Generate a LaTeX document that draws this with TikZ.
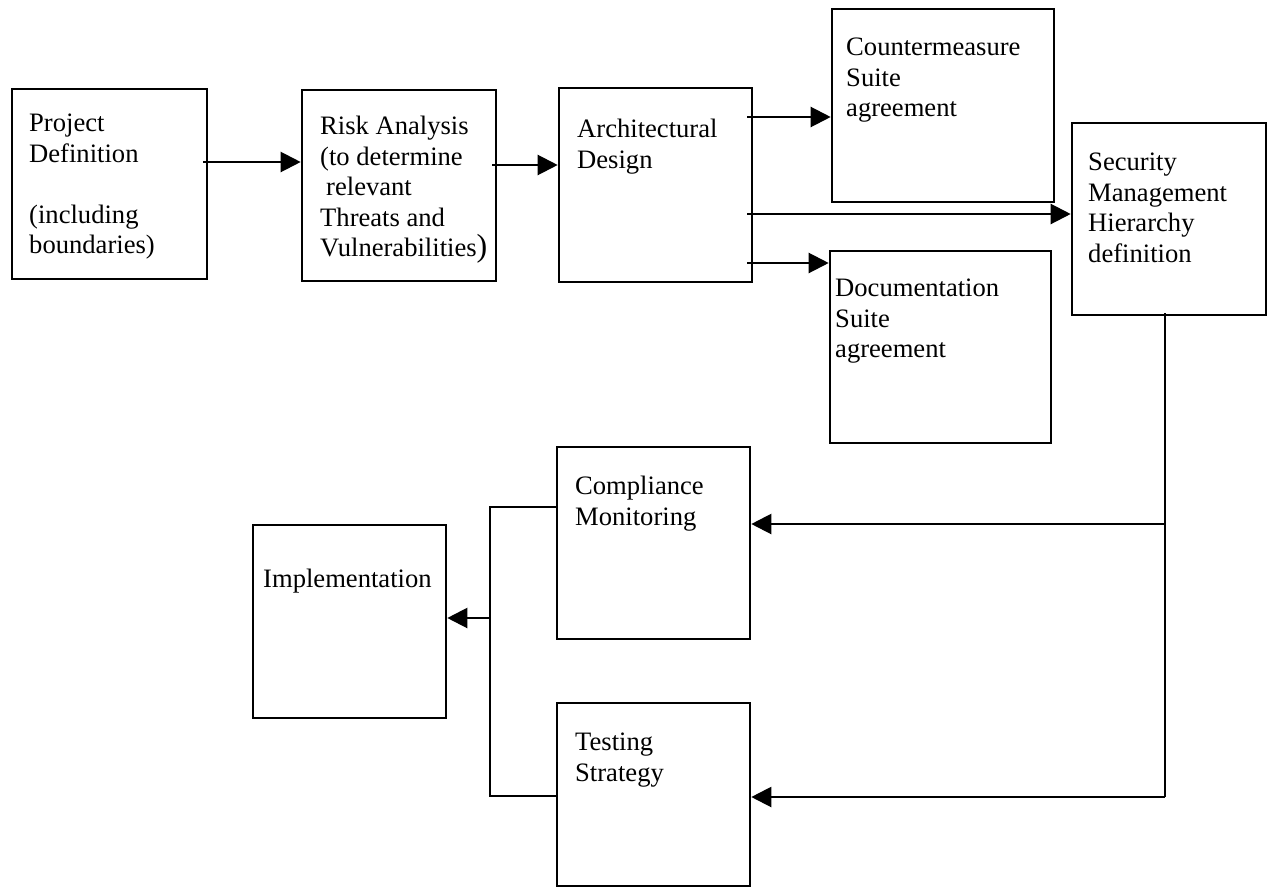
\documentclass[tikz,border=0pt]{standalone}
\usepackage{fontspec}
\setmainfont{Liberation Serif}
\usetikzlibrary{arrows.meta,calc}
\tikzset{
  box/.style={draw=black,line width=2.6pt,rectangle,inner sep=0pt,fill=white},
  txt/.style={anchor=north west,inner sep=0pt,align=left,font=\fontsize{26.6}{30.5}\selectfont,execute at begin node=\strut},
  conn/.style={draw=black,line width=2.2pt},
  arr/.style={conn,-{Triangle[length=20pt,width=20pt]}}
}
\begin{document}
\begin{tikzpicture}[x=1pt,y=-1pt]
\useasboundingbox[fill=white] (0,0) rectangle (1271,894);
% boxes
\node[box,minimum width=195pt,minimum height=190pt] (proj) at (109.5,184) {};
\node[box,minimum width=194pt,minimum height=191pt] (risk) at (399,185.5) {};
\node[box,minimum width=193pt,minimum height=194pt] (arch) at (655.5,185) {};
\node[box,minimum width=222pt,minimum height=193pt] (counter) at (943,105.5) {};
\node[box,minimum width=194pt,minimum height=192pt] (sec) at (1169,219) {};
\node[box,minimum width=221pt,minimum height=192pt] (doc) at (940.5,347) {};
\node[box,minimum width=193pt,minimum height=192pt] (comp) at (653.5,543) {};
\node[box,minimum width=193pt,minimum height=193pt] (impl) at (349.5,621.5) {};
\node[box,minimum width=193pt,minimum height=183pt] (test) at (653.5,794.5) {};
% texts
\node[txt] (projT) at (29,114) {Project\\Definition\\[30.5pt](including\\boundaries)};
\node[txt] (riskT) at (320,116) {Risk Analysis\\(to determine\\\hspace{6pt}relevant\\Threats and\\Vulnerabilities{\fontsize{32}{30}\selectfont)}};
\node[txt] (archT) at (577,119) {Architectural\\Design};
\node[txt] (counterT) at (846,38) {Countermeasure\\Suite\\agreement};
\node[txt] (secT) at (1088,153) {Security\\Management\\Hierarchy\\definition};
\node[txt] (docT) at (835,279) {Documentation\\Suite\\agreement};
\node[txt] (compT) at (575,476) {Compliance\\Monitoring};
\node[txt] (implT) at (263,566) {Implementation};
\node[txt] (testT) at (575,733) {Testing\\Strategy};
% connector points
\coordinate (a1) at (203,162);
\coordinate (a2) at (492,165);
\coordinate (a3) at (747,117);
\coordinate (a4) at (747,214);
\coordinate (a5) at (747,263);
\coordinate (s0) at (1165,313);
\coordinate (s1) at (1165,524);
\coordinate (s2) at (1165,797);
\coordinate (b1) at (490,507);
\coordinate (b2) at (490,796);
\coordinate (b3) at (490,618);
% connectors
\draw[arr] (a1) -- (a1 -| risk.west);
\draw[arr] (a2) -- (a2 -| arch.west);
\draw[arr] (a3) -- (a3 -| counter.west);
\draw[arr] (a4) -- (a4 -| sec.west);
\draw[arr] (a5) -- (a5 -| doc.west);
\draw[conn] (s0) -- (s2);
\draw[arr] (s1) -- (s1 -| comp.east);
\draw[arr] (s2) -- (s2 -| test.east);
\draw[conn] (b1 -| comp.west) -- (b1) -- (b2) -- (b2 -| test.west);
\draw[arr] (b3) -- (b3 -| impl.east);
\end{tikzpicture}
\end{document}
